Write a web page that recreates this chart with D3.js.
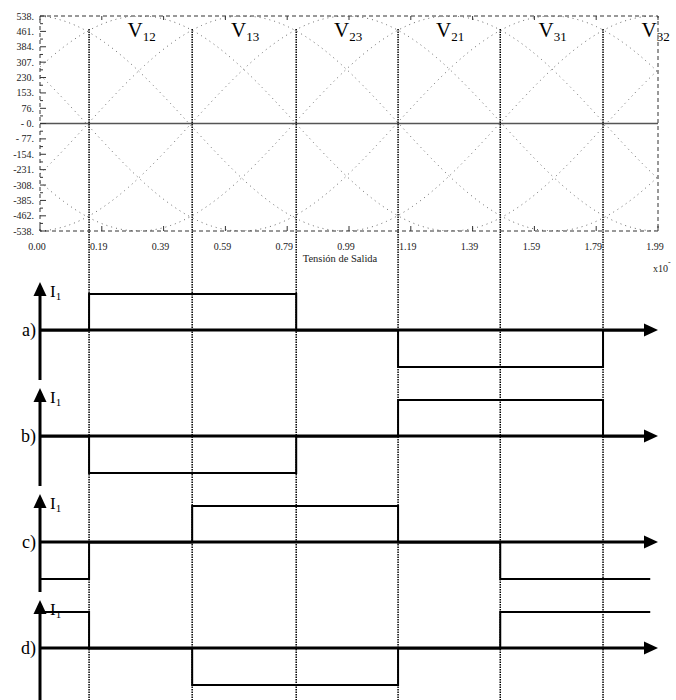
<!DOCTYPE html>
<html><head><meta charset="utf-8">
<script src="https://cdn.jsdelivr.net/npm/d3@7"></script>
<style>body{margin:0;background:#fff} svg{display:block}</style>
</head><body>
<script>
// ---------- data ----------
const amplitude = 538;
const period = 2.0;
const voltageMain = ["V","V","V","V","V","V"];
const voltageSubs = ["12","13","23","21","31","32"];
const peakTimes = [0.324, 0.655, 0.987, 1.318, 1.649, 1.980];
const yTickValues = [538,461,384,307,230,153,76,0,-77,-154,-231,-308,-385,-462,-538];
const yTickLabels = ["538.","461.","384.","307.","230.","153.","76.","- 0.","- 77.","-154.","-231.","-308.","-385.","-462.","-538."];
const xTickValues = [0,0.199,0.398,0.597,0.796,0.995,1.194,1.393,1.592,1.791,1.99];
const xTickLabels = ["0.00","0.19","0.39","0.59","0.79","0.99","1.19","1.39","1.59","1.79","1.99"];
const xTitle = "Tensión de Salida";
const switchTimes = [0.158,0.490,0.825,1.153,1.482,1.813];
const sectorBounds = [0,0.158,0.490,0.825,1.153,1.482,1.813,1.965];
const panelLabels = ["a)","b)","c)","d)"];
const currentA = [0, 1, 1, 0,-1,-1, 0];
const currentB = [0,-1,-1, 0, 1, 1, 0];
const currentC = [-1,0, 1, 1, 0,-1,-1];
const currentD = [1, 0,-1,-1, 0, 1, 1];
const currents = [currentA,currentB,currentC,currentD];

// ---------- layout ----------
const W = 676, H = 700;
const font = "'Liberation Serif','Times New Roman',serif";
const svg = d3.select("body").append("svg").attr("width",W).attr("height",H)
  .style("font-family",font);

const x = d3.scaleLinear().domain([0,1.99]).range([40,658]);
const y = d3.scaleLinear().domain([-538,538]).range([231,16]);

// clip
svg.append("defs").append("clipPath").attr("id","plotclip")
  .append("rect").attr("x",x(0)).attr("y",y(538)).attr("width",x(1.99)-x(0)).attr("height",y(-538)-y(538));

// sinusoids
const tSamples = d3.range(0, 1.99+1e-9, 0.004);
const curve = d3.line().x(d=>x(d[0])).y(d=>y(d[1]));
const gCurves = svg.append("g").attr("clip-path","url(#plotclip)");
peakTimes.forEach(p=>{
  const pts = tSamples.map(t=>[t, amplitude*Math.cos(2*Math.PI*(t-p)/period)]);
  gCurves.append("path").attr("d",curve(pts)).attr("fill","none")
    .attr("stroke","#666").attr("stroke-width",1).attr("stroke-dasharray","1,4");
});

// zero line
svg.append("line").attr("x1",x(0)).attr("x2",x(1.99)).attr("y1",y(0)).attr("y2",y(0))
  .attr("stroke","#555").attr("stroke-width",1.5);

// dashed border
svg.append("rect").attr("x",x(0)).attr("y",y(538)).attr("width",x(1.99)-x(0)).attr("height",y(-538)-y(538))
  .attr("fill","none").attr("stroke","#333").attr("stroke-width",1).attr("stroke-dasharray","4,3");

// y ticks
const gy = svg.append("g");
yTickValues.forEach((v,i)=>{
  gy.append("line").attr("x1",x(0)).attr("x2",x(0)+6).attr("y1",y(v)).attr("y2",y(v))
    .attr("stroke","#333").attr("stroke-width",1);
  if(i<yTickValues.length-1){
    const m=(v+yTickValues[i+1])/2;
    gy.append("line").attr("x1",x(0)).attr("x2",x(0)+3).attr("y1",y(m)).attr("y2",y(m))
      .attr("stroke","#333").attr("stroke-width",1);
  }
  gy.append("text").attr("x",34).attr("y",y(v)+3.5).attr("text-anchor","end")
    .attr("font-size",10).attr("fill","#222").text(yTickLabels[i]);
});

// x ticks
const gx = svg.append("g");
xTickValues.forEach((v,i)=>{
  gx.append("line").attr("x1",x(v)).attr("x2",x(v)).attr("y1",y(-538)).attr("y2",y(-538)-5)
    .attr("stroke","#333").attr("stroke-width",1);
  gx.append("line").attr("x1",x(v)).attr("x2",x(v)).attr("y1",y(538)).attr("y2",y(538)+4)
    .attr("stroke","#333").attr("stroke-width",1);
  gx.append("text").attr("x",x(v)-3).attr("y",y(-538)+19).attr("text-anchor","middle")
    .attr("font-size",10).attr("fill","#222").text(xTickLabels[i]);
});
svg.append("text").attr("x",340).attr("y",y(-538)+31).attr("text-anchor","middle")
  .attr("font-size",10.5).attr("fill","#222").text(xTitle);
const x10 = svg.append("text").attr("x",653).attr("y",y(-538)+41).attr("font-size",10).attr("fill","#222");
x10.append("tspan").text("x10");
x10.append("tspan").attr("dy",-7).attr("font-size",8).text("-");

// vertical dotted switching lines
switchTimes.forEach(t=>{
  svg.append("line").attr("x1",x(t)).attr("x2",x(t)).attr("y1",29).attr("y2",H)
    .attr("stroke","#000").attr("stroke-width",1.5).attr("stroke-dasharray","1.5,1");
});

// voltage labels
voltageSubs.forEach((s,i)=>{
  const t0 = switchTimes[i];
  const t1 = i<switchTimes.length-1 ? switchTimes[i+1] : switchTimes[i]+(switchTimes[1]-switchTimes[0]);
  const tx = svg.append("text").attr("x",x((t0+t1)/2)+1).attr("y",37).attr("text-anchor","middle")
    .attr("fill","#000");
  tx.append("tspan").attr("font-size",21).text(voltageMain[i]);
  tx.append("tspan").attr("font-size",13).attr("dy",4).text(s);
});

// ---------- current panels ----------
const axisY = d3.scalePoint().domain(panelLabels).range([330,648]);
const lev = d3.scaleLinear().domain([-1,1]).range([37,-36]);
panelLabels.forEach((lab,i)=>{
  const ay = axisY(lab);
  const tip = ay-48;
  const g = svg.append("g");
  // waveform
  const pts = currents[i].map((v,k)=>[sectorBounds[k],v]);
  pts.push([sectorBounds[sectorBounds.length-1], currents[i][currents[i].length-1]]);
  const wl = d3.line().x(d=>x(d[0])).y(d=>ay+lev(d[1])).curve(d3.curveStepAfter);
  g.append("path").attr("d",wl(pts)).attr("fill","none").attr("stroke","#000").attr("stroke-width",2);
  // horizontal axis
  g.append("line").attr("x1",x(0)).attr("x2",646).attr("y1",ay).attr("y2",ay)
    .attr("stroke","#000").attr("stroke-width",3);
  g.append("path").attr("d",`M658,${ay}L644,${ay-6.5}L644,${ay+6.5}Z`).attr("fill","#000");
  // vertical axis
  const bottom = i===panelLabels.length-1 ? H : ay+50;
  g.append("line").attr("x1",x(0)).attr("x2",x(0)).attr("y1",tip+10).attr("y2",bottom)
    .attr("stroke","#000").attr("stroke-width",3);
  g.append("path").attr("d",`M${x(0)},${tip}L${x(0)-6.5},${tip+14}L${x(0)+6.5},${tip+14}Z`).attr("fill","#000");
  // labels
  g.append("text").attr("x",36).attr("y",ay+6).attr("text-anchor","end")
    .attr("font-size",18).attr("fill","#000").text(lab);
  const il = g.append("text").attr("x",50).attr("y",tip+15).attr("fill","#000");
  il.append("tspan").attr("font-size",17).text("I");
  il.append("tspan").attr("font-size",11).attr("dy",3).text("1");
});
</script>
</body></html>
